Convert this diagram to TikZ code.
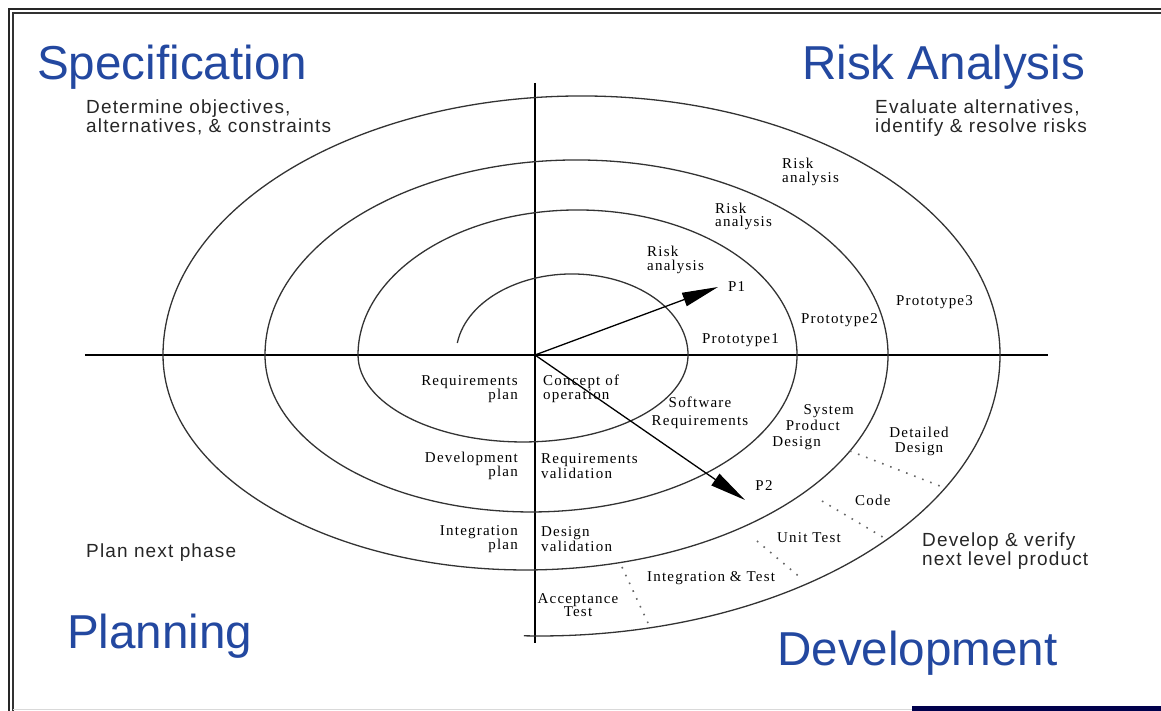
\documentclass[tikz,border=0pt]{standalone}
\usepackage{fontspec}
\setmainfont{Liberation Serif}
\setsansfont{Liberation Sans}
\newfontfamily\notefont[LetterSpace=6]{Liberation Sans}
\newfontfamily\lblfont[LetterSpace=8]{Liberation Serif}
\usepackage{xcolor}
\usepackage{tikz}
\usetikzlibrary{arrows.meta, positioning}
\definecolor{phaseblue}{RGB}{35,72,160}
\tikzstyle{phase}   = [font=\sffamily\fontsize{47.6}{50}\selectfont, text=phaseblue, inner sep=0pt, anchor=base west]
\tikzstyle{quad}    = [font=\notefont\fontsize{19}{19}\selectfont, text=black!85, inner sep=0pt, align=left]
\tikzstyle{lbl}     = [font=\lblfont\fontsize{15}{13.5}\selectfont, text=black, inner sep=0pt]
\tikzstyle{ring}    = [line width=1.3pt, draw=black!80]
\tikzstyle{axis}    = [line width=2.6pt]
\tikzstyle{divider} = [line width=1.6pt, draw=black!60, dash pattern=on 1.6pt off 7pt]
\tikzstyle{arrow}   = [line width=1.3pt, -{Triangle[length=36pt,width=14pt]}]

\begin{document}
\begin{tikzpicture}[x=1pt, y=1pt]
    \useasboundingbox (-535,-356) rectangle (626,355);

    % slide frame
    \draw[line width=2pt, black!85] (626,346) -- (-526,346) -- (-526,-356);
    \draw[line width=1.2pt, black!80] (626,342) -- (-522,342) -- (-522,-356);
    \draw[line width=1pt, black!15] (-522,-354.5) -- (626,-354.5);
    \fill[black!70!blue] (377,-351) rectangle (626,-356);

    % quadrant axes
    \draw[axis] (0,272) -- (0,-288);
    \draw[axis] (-450,0) -- (513,0);

    % the spiral, one half ellipse per half turn
    \draw[ring] (-77.7,12)
        arc[start angle=171.5, end angle=0,    x radius=116pt,   y radius=81pt]
        arc[start angle=0,     end angle=-180, x radius=165pt,   y radius=87pt]
        arc[start angle=180,   end angle=0,    x radius=219.5pt, y radius=145pt]
        arc[start angle=0,     end angle=-180, x radius=266pt,   y radius=157pt]
        arc[start angle=180,   end angle=0,    x radius=311.5pt, y radius=195pt]
        arc[start angle=0,     end angle=-180, x radius=362.5pt, y radius=215pt]
        arc[start angle=180,   end angle=0,    x radius=418.5pt, y radius=259pt]
        arc[start angle=0,     end angle=-92,  x radius=460pt,   y radius=281pt];

    % dotted splits of the last turn
    \draw[divider] (315,-96)  -- (410,-133);
    \draw[divider] (287,-146) -- (351,-184);
    \draw[divider] (222,-186) -- (267,-224);
    \draw[divider] (87,-212)  -- (113,-268);

    % quadrant titles
    \node[phase] (spec) at (-498,275)  {Specification};
    \node[phase] (risk) at (267,275)   {Risk Analysis};
    \node[phase] (plan) at (-468,-293) {Planning};
    \node[phase] (dev)  at (242,-310)  {Development};

    \node[quad, anchor=base west] (objectives) at (-449,222) {Determine objectives,\\alternatives, \& constraints};
    \node[quad, anchor=base west] (evaluate)   at (340,222)  {Evaluate alternatives,\\identify \& resolve risks};
    \node[quad, anchor=base west] (nextphase)  at (-449,-203) {Plan next phase};
    \node[quad, anchor=base west] (verify)     at (387,-210) {Develop \& verify\\next level product};

    % risk / prototype labels
    \node[lbl, align=left, anchor=west] (risk3) at (247,183)  {Risk\\analysis};
    \node[lbl, align=left, anchor=west] (risk2) at (180,138.5) {Risk\\analysis};
    \node[lbl, align=left, anchor=west] (risk1) at (112,95)   {Risk\\analysis};
    \node[lbl, anchor=west] (p1)     at (193,68) {P1};
    \node[lbl, anchor=west] (proto1) at (167,15) {Prototype1};
    \node[lbl, anchor=west] (proto2) at (266,35) {Prototype2};
    \node[lbl, anchor=west] (proto3) at (361,53) {Prototype3};

    % planning side
    \node[lbl, align=right, anchor=east] (reqplan)   at (-17,-34)  {Requirements\\plan};
    \node[lbl, align=right, anchor=east] (devplan)   at (-17,-111) {Development\\plan};
    \node[lbl, align=right, anchor=east] (intplan)   at (-17,-184) {Integration\\plan};

    % development side
    \node[lbl, align=left, anchor=west] (concept)  at (8,-34)   {Concept of\\operation};
    \node[lbl, align=left, anchor=west] (reqval)   at (6,-111)  {Requirements\\validation};
    \node[lbl, align=left, anchor=west] (desval)   at (6,-184)  {Design\\validation};
    \node[lbl, align=center] (swreq)    at (165,-58)  {Software\\[4pt]Requirements};
    \node[lbl, align=right, anchor=east, font=\lblfont\fontsize{15}{16}\selectfont]
        (sysdes) at (319,-72) {System\\Product\hspace{14pt}\mbox{}\\Design\hspace{33pt}\mbox{}};
    \node[lbl, align=center] (detdes)   at (384,-86.5) {Detailed\\[1pt]Design};
    \node[lbl, anchor=west] (code)      at (320,-145) {Code};
    \node[lbl, anchor=west] (unittest)  at (242,-183) {Unit Test};
    \node[lbl, anchor=west] (inttest)   at (112,-223) {Integration \& Test};
    \node[lbl, align=center] (acctest)  at (43,-250)  {Acceptance\\Test};
    \node[lbl] (p2) at (229,-131) {P2};

    % progress arrows
    \coordinate (o) at (0,0);
    \coordinate (p1tip) at ([xshift=-10pt]p1.west);
    \coordinate (p2tip) at (210,-145);
    \draw[arrow] (o) -- (p1tip);
    \draw[arrow] (o) -- (p2tip);
\end{tikzpicture}
\end{document}
